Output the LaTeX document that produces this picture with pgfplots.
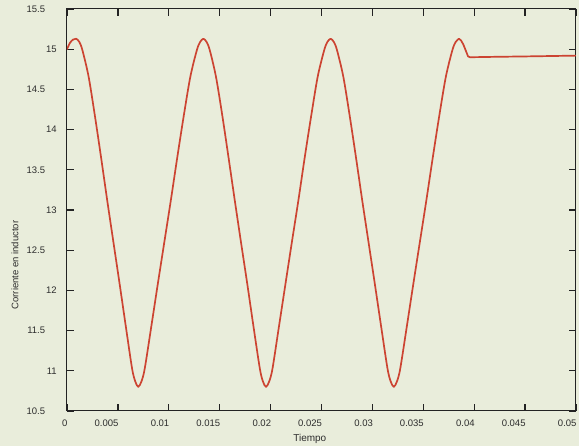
\documentclass[border=0pt]{standalone}
\usepackage{pgfplots}
\pgfplotsset{compat=1.18}
\usepackage{fontspec}
\setmainfont{Liberation Sans}
\definecolor{paper}{RGB}{233,237,219}
\definecolor{trace}{RGB}{204,68,50}
\definecolor{frame}{RGB}{35,35,35}
\definecolor{ink}{RGB}{45,45,45}
\begin{document}
\begin{tikzpicture}
% page background
\fill[paper] (-67pt,-35pt) rectangle (512pt,411pt);
\begin{axis}[
  scale only axis,
  width=509pt, height=402pt,
  xmin=0, xmax=0.05, ymin=10.5, ymax=15.5,
  axis line style={draw=frame, line width=1pt},
  tick style={draw=frame, line width=1.3pt},
  tick align=inside,
  major tick length=7pt,
  scaled ticks=false,
  /pgf/number format/assume math mode=true,
  xtick={0,0.005,0.01,0.015,0.02,0.025,0.03,0.035,0.04,0.045,0.05},
  xticklabels={0,0.005,0.01,0.015,0.02,0.025,0.03,0.035,0.04,0.045,0.05},
  ytick={10.5,11,11.5,12,12.5,13,13.5,14,14.5,15,15.5},
  yticklabels={10.5\kern11.5pt,11,11.5\kern11.5pt,12,12.5\kern11.5pt,13,13.5\kern11.5pt,14,14.5\kern11.5pt,15,15.5\kern11.5pt},
  xticklabel style={font=\fontsize{9.5}{11}\selectfont, text=ink, anchor=north east, xshift=4pt, yshift=-5pt},
  yticklabel style={font=\fontsize{9.5}{11}\selectfont, text=ink, anchor=east, xshift=-6.8pt},
  xlabel={Tiempo},
  ylabel={Corriente en inductor},
  every axis x label/.style={at={(rel axis cs:0.477,0)}, anchor=center, yshift=-27.5pt, font=\fontsize{10}{12}\selectfont, text=ink},
  every axis y label/.style={at={(rel axis cs:0,0.363)}, rotate=90, anchor=center, yshift=52pt, font=\fontsize{9.5}{11}\selectfont, text=ink},
]
% oscillation of the inductor current
\addplot[trace, line width=1.7pt, smooth, line join=round, line cap=round] coordinates {
(0,15.00) (0.0003,15.08) (0.0006,15.12) (0.0009,15.13)
(0.00121,15.09) (0.00151,14.99) (0.00212,14.66) (0.00273,14.18)
(0.00334,13.66) (0.00395,13.12) (0.00456,12.60) (0.00517,12.08)
(0.00578,11.55) (0.00639,11.03) (0.00670,10.87) (0.00700,10.80)
(0.00732,10.87) (0.00764,11.03) (0.00828,11.55) (0.00892,12.08)
(0.00956,12.60) (0.01020,13.12) (0.01084,13.66) (0.01148,14.18)
(0.01212,14.66) (0.01276,14.99) (0.01308,15.09) (0.01340,15.13)
(0.01371,15.09) (0.01402,14.99) (0.01463,14.66) (0.01525,14.18)
(0.01586,13.66) (0.01648,13.12) (0.01709,12.60) (0.01771,12.08)
(0.01832,11.55) (0.01894,11.03) (0.01924,10.87) (0.01955,10.80)
(0.01987,10.87) (0.02019,11.03) (0.02082,11.55) (0.02146,12.08)
(0.02209,12.60) (0.02273,13.12) (0.02336,13.66) (0.02400,14.18)
(0.02463,14.66) (0.02527,14.99) (0.02558,15.09) (0.02590,15.13)
(0.02621,15.09) (0.02652,14.99) (0.02714,14.66) (0.02776,14.18)
(0.02838,13.66) (0.02900,13.12) (0.02962,12.60) (0.03024,12.08)
(0.03086,11.55) (0.03148,11.03) (0.03179,10.87) (0.03210,10.80)
(0.03242,10.87) (0.03274,11.03) (0.03338,11.55) (0.03402,12.08)
(0.03466,12.60) (0.03530,13.12) (0.03594,13.66) (0.03658,14.18)
(0.03722,14.66) (0.03786,14.99) (0.03818,15.09) (0.03850,15.13)
};
% settling after the last peak
\addplot[trace, line width=1.7pt, line join=round, line cap=round] coordinates {
(0.03850,15.13) (0.03870,15.11) (0.03893,15.06) (0.03915,14.99)
(0.03940,14.91) (0.03960,14.90) (0.04200,14.905) (0.04500,14.91) (0.05,14.92)
};
\end{axis}
\pgfresetboundingbox
\useasboundingbox (-67pt,-35pt) rectangle (512pt,411pt);
\end{tikzpicture}
\end{document}
